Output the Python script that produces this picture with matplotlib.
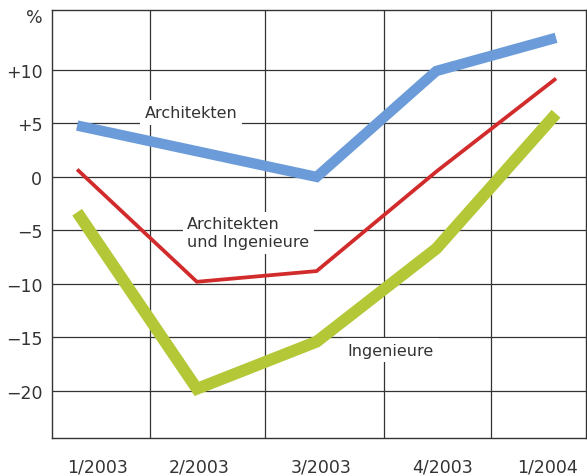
import matplotlib.pyplot as plt

# quarterly change in %
quarters = ['1/2003', '2/2003', '3/2003', '4/2003', '1/2004']
architekten = [4.8, 2.4, 0.0, 9.9, 13.0]
arch_und_ing = [0.7, -9.8, -8.8, 0.5, 9.2]
ingenieure = [-3.3, -19.8, -15.4, -6.7, 5.9]

y_ticks = [10, 5, 0, -5, -10, -15, -20]
y_tick_labels = ['+10', '+5', '0', '\u22125', '\u221210', '\u221215', '\u221220']

# positions of the vertical grid lines and the quarter labels (in quarter units)
v_grid = [0.61, 1.57, 2.56, 3.46]
label_pos = [0.17, 1.02, 2.04, 3.05, 3.93]

plt.rcParams['font.family'] = ['DejaVu Sans']

fig = plt.figure(figsize=(5.87, 4.77), dpi=100)
ax = fig.add_axes([52 / 587, 1 - 439 / 477, 534 / 587, 428 / 477])

x = list(range(len(quarters)))
grid_col = '#333333'
text_col = '#333333'

for y in y_ticks:
    ax.axhline(y, color=grid_col, lw=0.9, zorder=1)
for xv in v_grid:
    ax.axvline(xv, color=grid_col, lw=0.9, zorder=1)

ax.plot(x, architekten, color='#6b9bd9', lw=7.5, solid_capstyle='butt',
        solid_joinstyle='miter', zorder=3)
ax.plot(x, arch_und_ing, color='#d12b2b', lw=2.7, solid_capstyle='butt',
        solid_joinstyle='miter', zorder=3)
ax.plot(x, ingenieure, color='#b3c737', lw=8.5, solid_capstyle='butt',
        solid_joinstyle='miter', zorder=3)

box = dict(boxstyle='square,pad=0.3', fc='white', ec='none')
ax.text(0.95, 5.6, 'Architekten', ha='center', va='baseline', fontsize=11.5,
        color=text_col, bbox=box, zorder=2)
ax.text(0.92, -5.2, 'Architekten\nund Ingenieure', ha='left', va='center',
        fontsize=11.5, color=text_col, bbox=box, zorder=2, linespacing=1.2)
ax.text(2.62, -16.6, 'Ingenieure', ha='center', va='baseline', fontsize=11.5,
        color=text_col, bbox=box, zorder=2)

ax.set_xlim(-0.21, 4.25)
ax.set_ylim(-24.4, 15.6)

ax.set_yticks(y_ticks)
ax.set_yticklabels(y_tick_labels)
ax.set_xticks(label_pos)
ax.set_xticklabels(quarters)
ax.tick_params(axis='y', length=0, pad=7, labelsize=12.5, labelcolor=text_col)
ax.tick_params(axis='x', length=0, pad=14, labelsize=12.5, labelcolor=text_col)
ax.text(-0.018, 14.9, '%', transform=ax.get_yaxis_transform(), ha='right',
        va='center', fontsize=12.5, color=text_col)

for s in ax.spines.values():
    s.set_color(grid_col)
    s.set_linewidth(1.0)

fig.savefig('out.png', dpi=100)
